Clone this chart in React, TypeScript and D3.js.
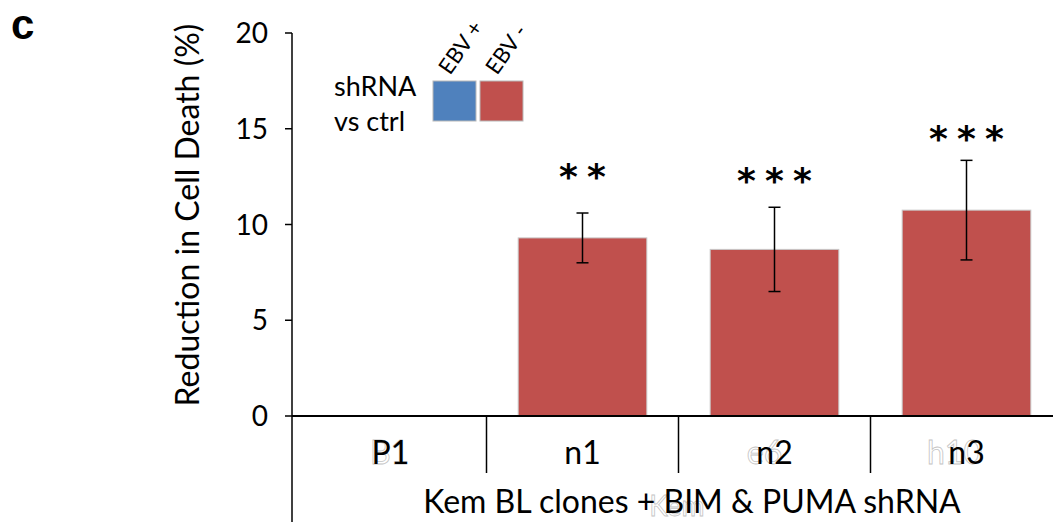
import React from "react";
import * as d3 from "d3";

const categories = ["P1", "n1", "n2", "n3"];
const values: (number | null)[] = [null, 9.3, 8.7, 10.75];
const errors: (number | null)[] = [null, 1.3, 2.2, 2.6];
const stars = ["", "**", "***", "***"];
const starLevels: (number | null)[] = [null, 12.9, 12.7, 14.9];
const yTicks = [0, 5, 10, 15, 20];
const legendLabels = ["EBV +", "EBV -"];
const ghostLabels = [
  { text: "B1", cat: "P1", dx: -1 },
  { text: "e6", cat: "n2", dx: -10 },
  { text: "h10", cat: "n3", dx: -12 },
];

const W = 1053;
const H = 522;
const FONT = "Lato, 'Open Sans', sans-serif";
const RED = "#C0504D";
const BLUE = "#4F81BD";

export default function App() {
  const y = d3.scaleLinear().domain([0, 20]).range([416, 33]);
  const bandStart = 294.5;
  const x = d3
    .scaleBand<string>()
    .domain(categories)
    .range([bandStart, bandStart + 192 * 4])
    .paddingInner(0.33)
    .paddingOuter(0.165);
  const axisX = 292;
  const baseY = y(0);
  const step = x.step();
  const sepXs = categories.slice(1).map((_, i) => bandStart + step * (i + 1));
  const center = (c: string) => (x(c) as number) + x.bandwidth() / 2;

  return (
    <svg width={W} height={H} style={{ position: "absolute", left: 0, top: 0, background: "#fff" }}>
      <rect width={W} height={H} fill="#fff" />
      <text x={11} y={39} fontFamily="'Liberation Sans', Arial, sans-serif" fontWeight="bold" fontSize={42} fill="#000">c</text>

      {/* bars */}
      {categories.map((c, i) => {
        const v = values[i];
        if (v == null) return null;
        return (
          <rect key={c} x={x(c)} y={y(v)} width={x.bandwidth()} height={baseY - y(v)}
            fill={RED} stroke="#c8c8c8" strokeWidth={1} />
        );
      })}

      {/* error bars */}
      {categories.map((c, i) => {
        const v = values[i];
        const e = errors[i];
        if (v == null || e == null) return null;
        const cx = center(c);
        return (
          <g key={c} stroke="#000" strokeWidth={1.5}>
            <line x1={cx} x2={cx} y1={y(v + e)} y2={y(v - e)} />
            <line x1={cx - 6} x2={cx + 6} y1={y(v + e)} y2={y(v + e)} />
            <line x1={cx - 6} x2={cx + 6} y1={y(v - e)} y2={y(v - e)} />
          </g>
        );
      })}

      {/* significance stars */}
      {categories.map((c, i) => {
        const lvl = starLevels[i];
        if (lvl == null || !stars[i]) return null;
        const n = stars[i].length;
        return (
          <g key={c}>
            {d3.range(n).map((k) => (
              <text key={k} x={center(c) + (k - (n - 1) / 2) * 28} y={y(lvl) + 20} textAnchor="middle"
                fontFamily="'DejaVu Sans', sans-serif" fontWeight="bold" fontSize={36} fill="#000">*</text>
            ))}
          </g>
        );
      })}

      {/* y axis */}
      <line x1={axisX} x2={axisX} y1={y(20)} y2={H} stroke="#000" strokeWidth={1.5} />
      {yTicks.map((t) => (
        <g key={t}>
          <line x1={axisX - 7} x2={axisX} y1={y(t)} y2={y(t)} stroke="#000" strokeWidth={1.5} />
          <text x={268} y={y(t) + 10} textAnchor="end" fontFamily={FONT} fontSize={28} fill="#000">{t}</text>
        </g>
      ))}
      <text transform={`translate(199, 215) rotate(-90)`} textAnchor="middle" fontFamily={FONT} fontSize={32} fill="#000">
        Reduction in Cell Death (%)
      </text>

      {/* x axis */}
      <line x1={axisX} x2={W} y1={baseY} y2={baseY} stroke="#000" strokeWidth={2} />
      {sepXs.map((sx, i) => (
        <line key={i} x1={sx} x2={sx} y1={baseY} y2={473} stroke="#000" strokeWidth={1.5} />
      ))}
      {ghostLabels.map((g) => (
        <text key={g.text} x={center(g.cat) + g.dx} y={464} textAnchor="middle" fontFamily={FONT} fontSize={32}
          fill="#fff" stroke="#c4c4c4" strokeWidth={0.8}>{g.text}</text>
      ))}
      {categories.map((c) => (
        <text key={c} x={center(c)} y={464} textAnchor="middle" fontFamily={FONT} fontSize={32} fill="#000">{c}</text>
      ))}
      <text x={677} y={516} textAnchor="middle" fontFamily={FONT} fontSize={28}
        fill="#fff" stroke="#c4c4c4" strokeWidth={0.8}>Kem</text>
      <text x={692} y={513} textAnchor="middle" fontFamily={FONT} fontSize={32} fill="#000">
        Kem BL clones + BIM &amp; PUMA shRNA
      </text>

      {/* legend */}
      <text x={334} y={96} fontFamily={FONT} fontSize={27} fill="#000">shRNA</text>
      <text x={334} y={131} fontFamily={FONT} fontSize={27} fill="#000">vs ctrl</text>
      {legendLabels.map((l, i) => {
        const sx = 433 + i * 47;
        return (
          <g key={l}>
            <rect x={sx} y={81} width={43} height={40} fill={i === 0 ? BLUE : RED} stroke="#b8b8b8" strokeWidth={1} />
            <text transform={`translate(${sx + 17}, 76) rotate(-55)`} fontFamily={FONT} fontSize={22} fill="#000">{l}</text>
          </g>
        );
      })}
    </svg>
  );
}
